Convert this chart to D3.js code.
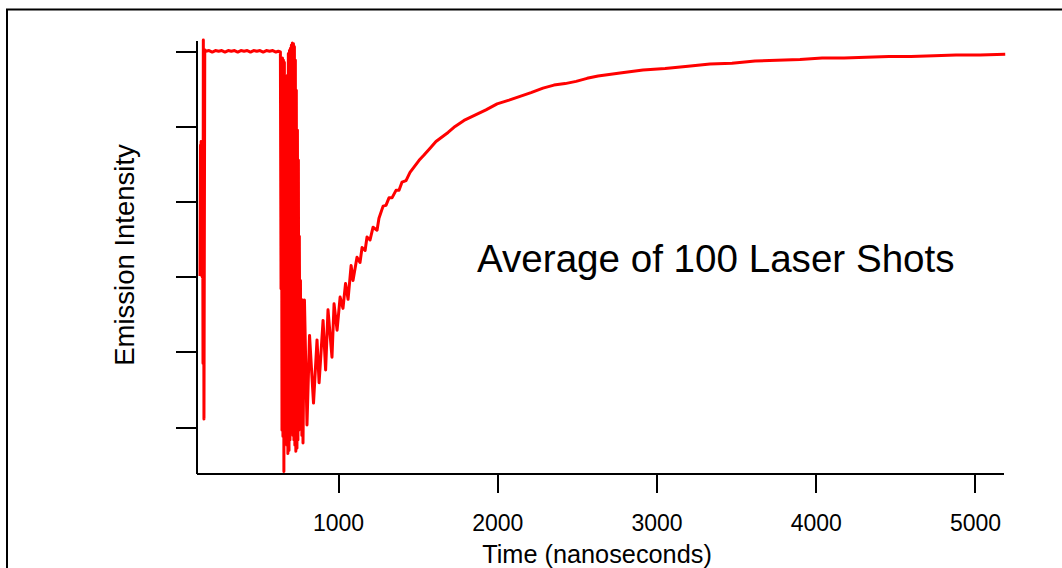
<!DOCTYPE html>
<html>
<head>
<meta charset="utf-8">
<script src="https://cdn.jsdelivr.net/npm/d3@7"></script>
<style>
  body { margin: 0; background: #fff; }
  svg { display: block; font-family: 'Liberation Sans', Arial, sans-serif; }
  .axis path, .axis line { stroke: #000; stroke-width: 2; shape-rendering: crispEdges; }
  .axis text { fill: #000; font-size: 23px; }
</style>
</head>
<body>
<svg id="chart" width="1062" height="568"></svg>
<script>
const timeTicks = [1000, 2000, 3000, 4000, 5000];
const intensityTicks = [0, 1, 2, 3, 4, 5];
const xLabel = 'Time (nanoseconds)';
const yLabel = 'Emission Intensity';
const note = 'Average of 100 Laser Shots';

// trace: time in ns, intensity in tick units
const traceTime = [
  133, 136, 138, 140, 142, 145, 147, 149, 151, 152, 154, 158, 163,
  170, 190, 210, 230, 250, 270, 290, 310, 330, 350, 370, 390, 410, 430,
  450, 470, 490, 510, 530, 550, 570, 590, 610, 625, 638,
  642, 645, 648, 651, 654, 657, 660, 663, 666, 669, 673, 676, 679, 682,
  685, 688, 692, 695, 698, 701, 704, 707, 710, 713, 717, 720, 723, 726,
  729, 732, 735, 738, 742, 745, 748, 751, 754, 757, 761, 764, 767, 770,
  773, 776, 780,
  789, 805, 821, 846, 868, 881, 906, 922, 937, 962, 975, 994, 1013, 1031,
  1047, 1063, 1082, 1094, 1119, 1138, 1151, 1170, 1182, 1201, 1220, 1245, 1257,
  1283, 1301, 1320, 1339, 1364, 1383, 1402, 1427, 1452, 1477, 1509, 1540,
  1578, 1615, 1653, 1691, 1735, 1791, 1860, 1929, 1999, 2074, 2143, 2212,
  2287, 2356, 2426, 2495, 2564, 2633, 2771, 2915, 3054, 3198, 3336, 3474,
  3619, 3757, 3901, 4040, 4178, 4316, 4460, 4598, 4743, 4881, 5032, 5190
];
const traceIntensity = [
  2.01, 3.75, 2.05, 3.80, 2.02, 3.72, 2.00, 3.70, 2.00, 0.85, 5.15, 0.11, 5.02,
  5.00, 5.01, 4.99, 5.01, 5.00, 5.01, 4.99, 5.01, 5.00, 5.01, 4.99, 5.01, 5.00, 5.01,
  4.99, 5.01, 5.00, 5.01, 4.99, 5.01, 5.00, 5.01, 4.99, 5.00, 4.99,
  1.84, 4.90, -0.04, 4.91, -0.12, 4.88, -0.59, 4.85, -0.17, 4.61, -0.12, 4.49, -0.24, 4.68,
  -0.35, 4.97, -0.31, 5.01, -0.17, 5.04, 0.09, 5.08, 0.03, 5.11, -0.11, 5.10, -0.17, 5.06,
  -0.24, 4.88, -0.32, 4.48, -0.28, 3.95, -0.17, 3.55, -0.04, 2.54, 0.11, 1.95, 0.03, 1.70,
  -0.11, 1.69, -0.21,
  1.69, 0.03, 1.22, 0.32, 1.16, 0.59, 1.42, 0.76, 1.56, 0.93, 1.64, 1.29, 1.73, 1.58,
  1.91, 1.70, 2.15, 1.95, 2.26, 2.19, 2.39, 2.35, 2.53, 2.49, 2.66, 2.62, 2.78,
  2.94, 2.95, 3.05, 3.05, 3.15, 3.15, 3.26, 3.28, 3.39, 3.46, 3.55, 3.62,
  3.71, 3.80, 3.86, 3.92, 4.00, 4.08, 4.15, 4.22, 4.30, 4.35, 4.40, 4.45,
  4.51, 4.55, 4.57, 4.60, 4.64, 4.67, 4.71, 4.75, 4.77, 4.80, 4.83, 4.84,
  4.87, 4.88, 4.89, 4.91, 4.91, 4.92, 4.93, 4.93, 4.94, 4.95, 4.95, 4.96
];

const svg = d3.select('#chart');

// outer frame, open to the right and bottom like the source
svg.append('rect')
  .attr('x', 7).attr('y', 9.5)
  .attr('width', 1200).attr('height', 700)
  .attr('fill', 'none').attr('stroke', '#000').attr('stroke-width', 2);

const x = d3.scaleLinear().domain([108, 5176]).range([196, 1003]);
const y = d3.scaleLinear().domain([-0.61, 5.15]).range([473, 40]);

const xAxis = d3.axisBottom(x).tickValues(timeTicks).tickFormat(d3.format('d'))
  .tickSize(20).tickSizeOuter(0).tickPadding(22);
const yAxis = d3.axisLeft(y).tickValues(intensityTicks).tickFormat('')
  .tickSize(20).tickSizeOuter(0);

svg.append('g').attr('class', 'axis').attr('transform', 'translate(0,473)').call(xAxis);
svg.append('g').attr('class', 'axis').attr('transform', 'translate(196,0)').call(yAxis);

const trace = traceTime.map((t, i) => [t, traceIntensity[i]]);

svg.append('path')
  .datum(trace)
  .attr('fill', 'none')
  .attr('stroke', '#ff0000')
  .attr('stroke-width', 3)
  .attr('stroke-linejoin', 'round')
  .attr('d', d3.line().x(d => x(d[0])).y(d => y(d[1])));

svg.append('text')
  .attr('x', 597).attr('y', 563)
  .attr('text-anchor', 'middle')
  .attr('font-size', 25.3)
  .text(xLabel);

svg.append('text')
  .attr('transform', 'translate(134,255) rotate(-90)')
  .attr('text-anchor', 'middle')
  .attr('font-size', 27.5)
  .text(yLabel);

svg.append('text')
  .attr('x', 477).attr('y', 272)
  .attr('font-size', 38.6)
  .text(note);
</script>
</body>
</html>
